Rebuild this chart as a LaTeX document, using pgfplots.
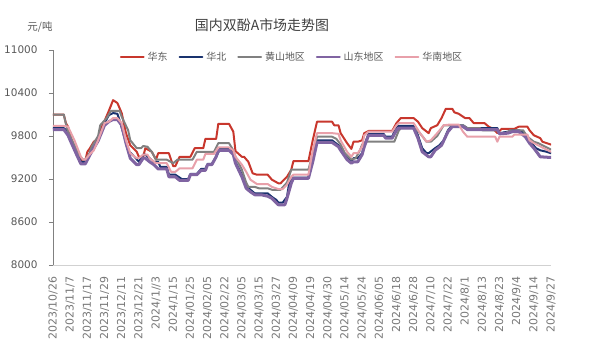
\documentclass[border=0pt]{standalone}
\usepackage{fontspec}
\setmainfont{DejaVu Sans}
\newfontfamily\cjk{Noto Sans CJK SC}
\usepackage{pgfplots}
\pgfplotsset{compat=1.18}
\definecolor{cRed}{RGB}{200,55,45}
\definecolor{cBlue}{RGB}{25,50,110}
\definecolor{cGray}{RGB}{128,128,128}
\definecolor{cPurple}{RGB}{128,100,162}
\definecolor{cPink}{RGB}{232,160,170}
\definecolor{txt}{RGB}{89,89,89}
\definecolor{xtxt}{RGB}{120,120,120}
\begin{document}
\begin{tikzpicture}
\path[use as bounding box] (-53bp,-89bp) rectangle (539bp,265bp);
\begin{axis}[
  scale only axis, width=498bp, height=215bp,
  xmin=0, xmax=232, ymin=8000, ymax=11000,
  axis x line*=bottom, axis y line*=left,
  x axis line style={draw=black!18, line width=0.8pt},
  y axis line style={draw=gray, line width=0.8pt},
  tick align=outside, major tick length=4bp,
  ytick={8000,8600,9200,9800,10400,11000},
  ytick style={draw=gray, line width=0.8pt},
  xtick style={draw=none},
  scaled y ticks=false,
  /pgf/number format/1000 sep={},
  /pgf/number format/assume math mode=true,
  yticklabel style={font=\fontsize{10.5}{12}\selectfont, text=txt},
  yticklabel shift=8bp,
  xtick={0,8,...,232},
  xticklabels={2023/10/26,2023/11/7,2023/11/17,2023/11/29,2023/12/11,2023/12/21,2024/1//3,2024/1/15,2024/01/25,2024/02/05,2024/02/22,2024/03/05,2024/03/15,2024/03/27,2024/04/09,2024/04/19,2024/04/30,2024/05/14,2024/05/24,2024/06/05,2024/6/18,2024/6/28,2024/7/10,2024/7/22,2024/8/1,2024/8/13,2024/8/23,2024/9/4,2024/9/14,2024/9/27},
  xticklabel style={rotate=90, anchor=east, font=\fontsize{11}{12}\selectfont, text=xtxt},
  xticklabel shift=4bp,
  legend columns=5,
  legend style={draw=none, fill=none, at={(0.48,0.967)}, anchor=center,
    font=\cjk\fontsize{10}{12}\selectfont, text=txt,
    inner sep=0pt,
    /tikz/every odd column/.append style={column sep=1bp},
    /tikz/every even column/.append style={column sep=9bp}},
  legend image code/.code={\draw[#1, line width=1.8bp] (0bp,0bp) -- (23bp,0bp);},
  every axis plot/.append style={line join=round, line cap=round},
]
\addplot[cRed, line width=2bp] table {
0 10100
5 10100
6 9980
7 9930
8 9810
10 9630
12 9490
14 9450
15 9450
16 9580
17 9620
19 9720
21 9760
22 9880
24 10010
26 10150
28 10300
30 10260
32 10120
34 9840
36 9670
39 9580
40 9510
42 9510
43 9630
46 9580
48 9470
49 9560
54 9560
56 9380
57 9380
59 9510
64 9510
66 9630
70 9630
71 9760
76 9760
77 9970
82 9970
84 9860
85 9590
88 9510
89 9510
91 9440
93 9280
95 9260
100 9260
102 9190
105 9140
106 9140
109 9230
111 9330
112 9450
119 9450
121 9740
123 10000
130 10000
131 9950
133 9950
134 9840
137 9700
139 9620
140 9720
142 9720
144 9740
145 9840
147 9870
158 9870
160 9980
162 10050
168 10050
170 10000
172 9910
175 9840
176 9910
179 9950
181 10050
183 10180
186 10180
187 10130
189 10110
192 10050
194 10050
196 9980
201 9980
203 9930
205 9900
207 9840
209 9900
215 9900
217 9930
221 9930
222 9880
224 9810
227 9770
228 9720
231 9690
232 9680
};
\addlegendentry{华东}
\addplot[cBlue, line width=2bp] table {
0 9910
5 9910
7 9860
8 9770
11 9560
13 9440
15 9440
18 9600
21 9740
24 9980
26 10090
28 10120
30 10110
31 10020
33 9810
35 9600
38 9510
40 9440
42 9540
43 9540
45 9490
47 9440
49 9440
50 9370
53 9370
54 9260
57 9260
60 9200
63 9200
64 9270
67 9270
69 9340
71 9340
72 9410
74 9410
76 9510
78 9630
82 9630
84 9560
85 9440
88 9260
90 9090
92 9050
94 9000
100 9000
102 8950
104 8910
105 8870
107 8870
109 8950
110 9140
112 9220
119 9220
121 9470
123 9740
130 9740
133 9670
134 9630
137 9490
139 9440
140 9490
142 9490
144 9560
145 9670
147 9830
154 9830
155 9790
158 9790
160 9930
161 9940
168 9940
170 9810
172 9630
174 9560
175 9560
178 9630
180 9670
182 9740
184 9880
186 9950
191 9950
193 9910
207 9910
208 9840
212 9860
214 9880
217 9880
218 9870
221 9790
223 9700
225 9630
227 9600
230 9580
232 9560
};
\addlegendentry{华北}
\addplot[cGray, line width=2bp] table {
0 10100
5 10100
6 9970
7 9860
10 9670
12 9540
14 9470
15 9470
17 9560
18 9650
21 9800
22 9950
25 10050
27 10150
31 10150
32 10070
35 9880
36 9740
39 9630
41 9630
42 9660
44 9650
46 9580
48 9470
53 9470
56 9420
58 9470
65 9470
67 9580
75 9580
77 9700
82 9700
84 9600
85 9510
88 9330
90 9150
91 9090
94 9090
96 9070
100 9070
102 9050
106 9050
109 9150
111 9330
119 9330
121 9550
123 9790
130 9790
132 9760
134 9680
136 9560
139 9470
141 9490
143 9600
144 9680
146 9720
159 9720
161 9870
162 9910
168 9910
170 9870
172 9800
174 9720
176 9720
179 9800
182 9950
184 9950
191 9950
193 9910
199 9910
200 9880
207 9880
208 9840
211 9840
213 9880
219 9880
221 9790
224 9720
226 9700
228 9670
232 9610
};
\addlegendentry{黄山地区}
\addplot[cPurple, line width=3bp] table {
0 9890
5 9890
7 9810
8 9740
11 9540
13 9410
15 9410
18 9580
21 9730
24 9950
26 10000
28 10030
30 10030
32 9950
34 9700
36 9490
39 9400
40 9400
42 9490
43 9490
45 9440
47 9400
49 9340
53 9340
54 9230
57 9230
59 9180
63 9180
64 9260
67 9260
69 9320
71 9320
72 9400
74 9400
76 9510
77 9600
82 9600
84 9540
85 9420
88 9230
90 9070
92 9020
94 8980
97 8980
100 8960
102 8930
104 8870
105 8840
108 8840
109 8930
111 9140
112 9210
119 9210
121 9440
123 9710
130 9710
133 9650
134 9600
137 9470
139 9420
140 9440
142 9440
144 9540
145 9650
147 9810
154 9810
155 9770
158 9770
160 9880
161 9910
168 9910
170 9770
172 9580
175 9510
176 9510
178 9600
181 9670
184 9860
186 9930
191 9930
193 9890
207 9890
208 9830
212 9840
214 9860
217 9860
220 9790
222 9700
224 9630
227 9510
232 9500
};
\addlegendentry{山东地区}
\addplot[cPink, line width=2bp] table {
0 9940
5 9940
7 9930
10 9740
13 9510
14 9470
15 9470
17 9540
19 9600
21 9740
24 9980
26 10000
28 10050
30 10050
32 9980
34 9740
36 9560
39 9490
40 9490
42 9540
44 9540
45 9490
48 9420
53 9420
55 9300
57 9300
59 9350
65 9350
67 9470
70 9470
71 9550
75 9550
77 9640
82 9640
84 9600
85 9510
88 9400
90 9300
92 9190
95 9130
100 9130
102 9090
105 9060
107 9060
109 9120
111 9230
112 9260
119 9260
121 9600
123 9840
130 9840
133 9830
134 9740
137 9580
139 9510
140 9560
142 9560
144 9650
145 9810
147 9860
158 9860
160 9950
161 9980
168 9980
171 9840
174 9720
176 9740
179 9840
182 9950
185 9960
189 9960
191 9860
193 9790
206 9790
207 9720
208 9790
214 9790
215 9820
221 9820
222 9740
224 9700
228 9640
232 9580
};
\addlegendentry{华南地区}
\end{axis}
\node[font=\cjk\fontsize{14}{16}\selectfont, text=black!75] at (209bp,240bp) {国内双酚A市场走势图};
\node[font=\cjk\fontsize{10.5}{12}\selectfont, text=txt] at (-13bp,238bp) {元/吨};
\end{tikzpicture}
\end{document}
